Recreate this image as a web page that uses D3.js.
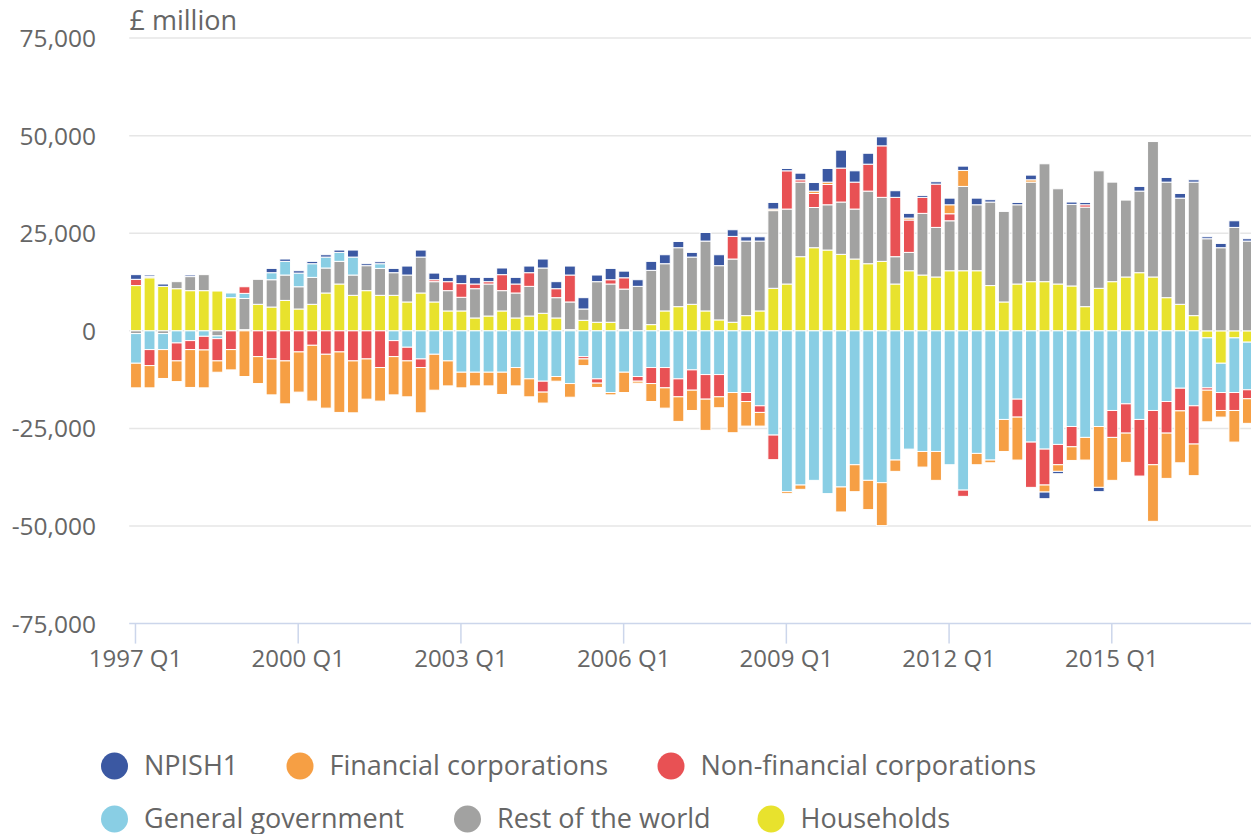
<!DOCTYPE html>
<html>
<head>
<meta charset="utf-8">
<script src="https://cdn.jsdelivr.net/npm/d3@7"></script>
<style>
  body { margin: 0; background: #fff; }
  svg { display: block; font-family: "Open Sans", sans-serif; }
</style>
</head>
<body>
<script>
//Quarters 1997 Q1 .. 2017 Q3
var quarters = [];
for (var yr = 1997; yr <= 2017; yr++) {
  for (var q = 1; q <= 4; q++) {
    if (yr == 2017 && q > 3) break;
    quarters.push(yr + " Q" + q);
  }
}

//Series values, £ million
var npish = [1200,400,600,0,400,0,0,0,0,0,1100,600,600,600,600,600,1800,500,500,1100,
  2300,1800,1700,1100,2300,1700,1100,1700,1700,1700,2300,1800,2300,2900,1700,2900,1700,1700,2300,2300,
  1600,1200,2200,2800,1700,1100,1100,1700,600,1700,2200,3500,4600,2900,2800,2300,1700,1200,500,600,
  1700,1100,1700,600,0,600,1200,-1700,-600,600,600,-1100,0,0,1200,0,1200,1200,600,500,
  1100,1700,600];

var financial = [-6300,-5700,-7400,-5300,-9700,-9700,-2900,-5200,-11700,-6900,-9200,-11000,-10300,-14300,-13800,-15500,-13300,-10300,-8600,-9800,
  -9200,-11600,-9200,-6400,-4000,-3500,-3500,-5700,-4700,-4600,-2800,-1200,-3500,-1700,-1100,-600,-5200,-500,-4600,-5200,
  -6300,-5200,-8000,-2800,-10300,-6300,-3500,400,-500,-1100,600,600,-6400,-6900,-7500,-11000,-2900,500,-4000,-7400,
  2300,4100,-2900,-700,-8200,-11000,600,-1800,-1700,-3500,-5800,-15600,-11000,-7500,0,-14500,-11600,-13300,-8100,-8100,
  -1700,-8100,-6300];

var nonFinancial = [1600,-4100,0,-4600,-2300,-3500,-5700,-4800,1700,-6600,-7200,-7700,-5400,-3700,-6000,-5400,-7700,-7200,-9400,-4100,
  -3500,-2200,500,2300,3500,1200,600,4100,2300,3500,-2800,2300,6900,-600,-1100,1100,2900,-1200,-4100,-5200,
  -4600,-5200,-6300,-5700,5800,-2300,-1700,-6300,9800,600,3600,5200,8700,6900,6900,13200,15200,8300,4100,11100,
  1800,-1600,0,0,0,-4600,-11600,-9200,-5200,-5200,600,0,-6900,-7500,-14500,-13900,-8100,-5800,-9800,-600,
  -4600,-4600,-2300];

var generalGov = [-7600,-4800,-4100,-3100,-2500,-1400,-700,1200,1300,0,1800,3500,3500,3500,2800,2300,4600,0,1200,-2500,
  -4200,-7200,-6000,-7700,-10600,-10600,-10600,-10600,-9400,-12300,-12900,-11700,-13500,-6600,-12300,-15800,-10600,-11700,-9400,-9400,
  -12300,-10000,-11200,-11200,-15800,-15800,-19200,-26700,-41200,-39500,-38300,-41700,-40000,-34300,-38300,-38900,-33100,-30300,-30900,-30900,
  -34300,-40800,-31400,-33100,-22700,-17500,-28500,-30300,-29100,-24500,-27300,-24500,-20400,-18700,-22700,-20400,-18100,-14700,-19200,-12800,
  -7500,-14000,-12200];

var restOfWorld = [-700,300,-700,1800,3600,4100,-1300,0,8000,6400,7000,6500,5700,6900,6400,5800,5200,6400,6900,5800,
  6900,9200,5200,5200,3500,7500,8200,5200,6400,7600,11600,5200,7100,2900,10400,9800,10400,11400,13900,12100,
  15100,12100,17900,13900,16200,19100,17900,19900,19200,19100,10300,11600,13400,12800,18600,16400,7000,4700,15800,12700,
  12800,21600,16900,21400,23200,20300,25500,30200,24400,20900,25500,30100,25500,19700,20900,34700,29600,27200,34200,23600,
  21300,26500,23000];

var households = [11600,13600,11400,10800,10300,10300,10200,8500,300,6800,6100,7800,5600,6800,9700,12000,9100,10300,9100,9100,
  7400,9700,7400,5100,5100,3300,3800,5100,3300,3800,4500,3300,300,2700,2200,2200,300,0,1600,5100,
  6200,6800,5100,2800,2200,3900,5100,10900,12000,19000,21300,20700,19600,18400,17200,17800,12000,15400,14300,13800,
  15400,15400,15400,11600,7400,12000,12600,12600,12000,11500,6200,10900,12600,13800,14900,13800,8500,6800,3900,-1800,
  -8300,-1800,-2900];

//Legend / series order and colours
var seriesNames = ["NPISH1", "Financial corporations", "Non-financial corporations",
  "General government", "Rest of the world", "Households"];
var seriesKeys = ["npish", "financial", "nonFinancial", "generalGov", "restOfWorld", "households"];
var seriesColors = ["#3b58a2", "#f69f44", "#e85154", "#89cee4", "#a2a2a1", "#e8e22d"];

var yTicks = [-75000, -50000, -25000, 0, 25000, 50000, 75000];
var xTickLabels = ["1997 Q1", "2000 Q1", "2003 Q1", "2006 Q1", "2009 Q1", "2012 Q1", "2015 Q1"];

//Table for d3.stack
var values = {npish: npish, financial: financial, nonFinancial: nonFinancial,
  generalGov: generalGov, restOfWorld: restOfWorld, households: households};
var table = quarters.map(function (q, i) {
  var row = {q: q};
  seriesKeys.forEach(function (k) { row[k] = values[k][i]; });
  return row;
});

var w = 1251, h = 834;
var plotLeft = 129.2, step = 13.56;

var svg = d3.select("body").append("svg")
  .attr("width", w)
  .attr("height", h);

var x = d3.scaleBand()
  .domain(quarters)
  .range([plotLeft, plotLeft + quarters.length * step])
  .paddingInner(0.2)
  .paddingOuter(0.1);

var y = d3.scaleLinear()
  .domain([-75000, 75000])
  .range([623.6, 38.1]);

var fmt = function (v) {
  return (v < 0 ? "-" : "") + d3.format(",")(Math.abs(v));
};

//Gridlines
svg.selectAll("line.grid")
  .data(yTicks.filter(function (d) { return d > -75000; }))
  .enter()
  .append("line")
  .attr("class", "grid")
  .attr("x1", plotLeft)
  .attr("x2", w)
  .attr("y1", function (d) { return y(d); })
  .attr("y2", function (d) { return y(d); })
  .attr("stroke", "#e6e6e6")
  .attr("stroke-width", 1.5);

//Y labels
svg.selectAll("text.ylab")
  .data(yTicks)
  .enter()
  .append("text")
  .attr("class", "ylab")
  .attr("x", 96)
  .attr("y", function (d) { return y(d) + 9; })
  .attr("text-anchor", "end")
  .attr("font-size", "24.5px")
  .attr("fill", "#666")
  .text(fmt);

//Stacked bars, households nearest zero
var stack = d3.stack()
  .keys(seriesKeys.slice().reverse())
  .offset(d3.stackOffsetDiverging);
var layers = stack(table);

svg.selectAll("g.layer")
  .data(layers)
  .enter()
  .append("g")
  .attr("class", "layer")
  .attr("fill", function (d) { return seriesColors[seriesKeys.indexOf(d.key)]; })
  .selectAll("rect")
  .data(function (d) { return d.filter(function (p) { return p[1] != p[0]; }); })
  .enter()
  .append("rect")
  .attr("x", function (d) { return x(d.data.q); })
  .attr("width", x.bandwidth())
  .attr("y", function (d) { return y(d[1]); })
  .attr("height", function (d) { return y(d[0]) - y(d[1]); })
  .attr("stroke", "#fff")
  .attr("stroke-width", 1);

//X axis line and ticks
svg.append("line")
  .attr("x1", plotLeft)
  .attr("x2", w)
  .attr("y1", y(-75000))
  .attr("y2", y(-75000))
  .attr("stroke", "#ccd6eb")
  .attr("stroke-width", 1.5);

svg.selectAll("line.xtick")
  .data(xTickLabels)
  .enter()
  .append("line")
  .attr("class", "xtick")
  .attr("x1", function (d) { return x(d) + x.bandwidth() / 2 - 0.5; })
  .attr("x2", function (d) { return x(d) + x.bandwidth() / 2 - 0.5; })
  .attr("y1", y(-75000))
  .attr("y2", y(-75000) + 20)
  .attr("stroke", "#ccd6eb")
  .attr("stroke-width", 1.5);

svg.selectAll("text.xlab")
  .data(xTickLabels)
  .enter()
  .append("text")
  .attr("class", "xlab")
  .attr("x", function (d) { return x(d) + x.bandwidth() / 2 - 0.5; })
  .attr("y", 667)
  .attr("text-anchor", "middle")
  .attr("font-size", "24px")
  .attr("fill", "#666")
  .text(function (d) { return d; });

//Unit title
svg.append("text")
  .attr("x", 129.5)
  .attr("y", 30)
  .attr("font-size", "27px")
  .attr("fill", "#666")
  .text("£ million");

//Legend
var legendPos = [[114.5, 766], [300, 766], [671, 766], [114.5, 819], [467.5, 819], [771, 819]];
var legend = svg.selectAll("g.legend")
  .data(seriesNames)
  .enter()
  .append("g")
  .attr("class", "legend")
  .attr("transform", function (d, i) { return "translate(" + legendPos[i][0] + "," + legendPos[i][1] + ")"; });

legend.append("circle")
  .attr("r", 13.5)
  .attr("fill", function (d, i) { return seriesColors[i]; });

legend.append("text")
  .attr("x", 29.5)
  .attr("dy", "0.35em")
  .attr("font-size", "27px")
  .attr("fill", "#666")
  .text(function (d) { return d; });
</script>
</body>
</html>
